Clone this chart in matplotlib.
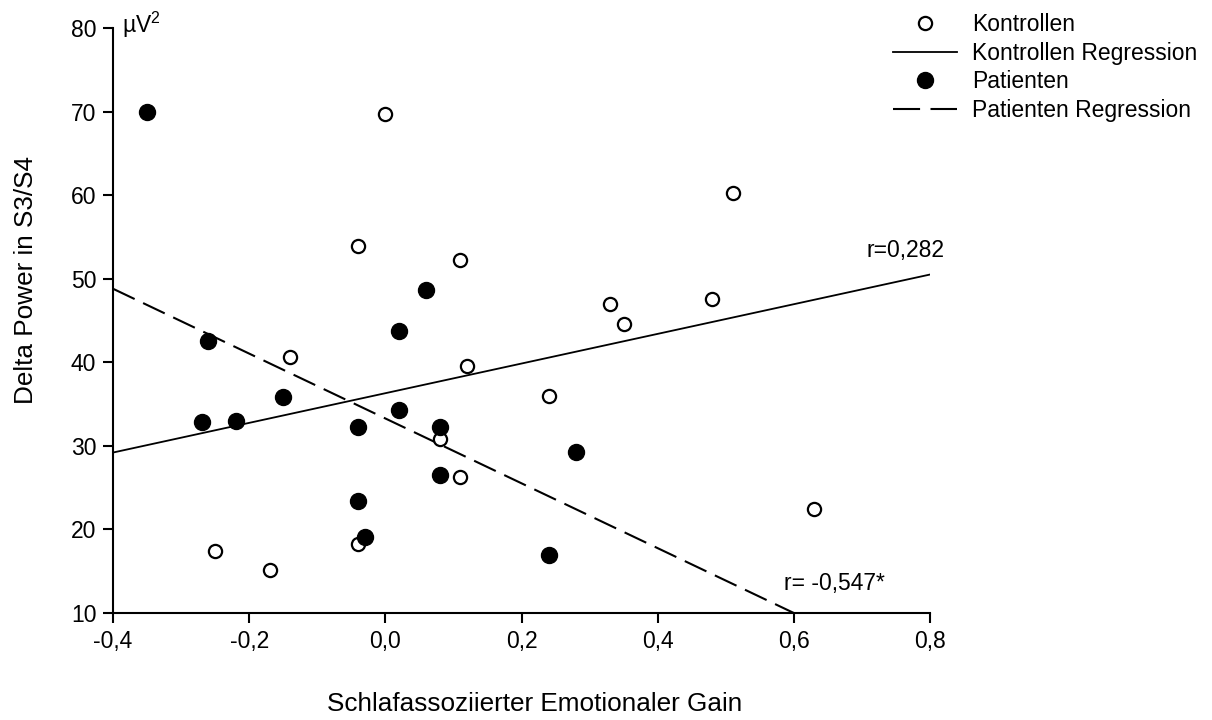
import matplotlib
matplotlib.use("Agg")
import matplotlib.pyplot as plt
from matplotlib.lines import Line2D
from matplotlib.ticker import FuncFormatter

plt.rcParams["font.family"] = ["Liberation Sans", "DejaVu Sans"]
plt.rcParams["mathtext.fontset"] = "custom"
plt.rcParams["mathtext.rm"] = "Liberation Sans"
plt.rcParams["mathtext.default"] = "regular"

# Kontrollen (offene Kreise)
ctrl_x = [0.00, 0.51, -0.04, 0.11, 0.33, 0.48, 0.35, -0.14, 0.12, 0.24, 0.08, 0.11, 0.63, -0.25, -0.17, -0.04]
ctrl_y = [69.7, 60.3, 53.9, 52.2, 47.0, 47.6, 44.6, 40.6, 39.5, 36.0, 30.8, 26.3, 22.5, 17.4, 15.2, 18.2]

# Patienten (gefuellte Kreise)
pat_x = [-0.35, 0.06, 0.02, -0.26, -0.15, 0.02, -0.27, -0.22, -0.04, 0.08, 0.28, 0.08, -0.04, -0.03, 0.24]
pat_y = [70.0, 48.7, 43.7, 42.5, 35.9, 34.3, 32.9, 33.0, 32.3, 32.3, 29.3, 26.5, 23.4, 19.1, 17.0]

# Regressionsgeraden (Endpunkte)
ctrl_reg_x = [-0.4, 0.8]
ctrl_reg_y = [29.2, 50.5]
pat_reg_x = [-0.4, 0.6]
pat_reg_y = [48.8, 10.0]

x_ticks = [-0.4, -0.2, 0.0, 0.2, 0.4, 0.6, 0.8]
y_ticks = [10, 20, 30, 40, 50, 60, 70, 80]

DASH = (11.5, 4.5)

fig = plt.figure(figsize=(12.12, 7.2), dpi=100)
ax = fig.add_axes([113 / 1212, 1 - 613 / 720, (930 - 113) / 1212, (613 - 28) / 720])

ax.plot(ctrl_reg_x, ctrl_reg_y, color="black", lw=1.3)
ax.plot(pat_reg_x, pat_reg_y, color="black", lw=1.5, dashes=DASH)
ax.plot(ctrl_x, ctrl_y, "o", ms=9.5, mfc="white", mec="black", mew=1.6, clip_on=False)
ax.plot(pat_x, pat_y, "o", ms=11.5, mfc="black", mec="black", clip_on=False)

ax.set_xlim(-0.4, 0.8)
ax.set_ylim(10, 80)
ax.set_xticks(x_ticks)
ax.set_yticks(y_ticks)
ax.xaxis.set_major_formatter(FuncFormatter(lambda v, p: f"{v:.1f}".replace(".", ",")))
for s in ["top", "right"]:
    ax.spines[s].set_visible(False)
for s in ["left", "bottom"]:
    ax.spines[s].set_linewidth(1.5)
ax.tick_params(direction="out", length=7, width=1.5, labelsize=16.5, pad=5)

ax.set_xlabel("Schlafassoziierter Emotionaler Gain", fontsize=18.8)
ax.set_ylabel("Delta Power in S3/S4", fontsize=18.8)
ax.xaxis.set_label_coords(0.516, -0.135)
ax.yaxis.set_label_coords(-0.092, 0.569)

ax.text(-0.387, 79.4, "\u00b5V$^2$", fontsize=16.5, ha="left", va="baseline")
ax.text(0.706, 52.6, "r=0,282", fontsize=16.5, ha="left", va="baseline")
ax.text(0.585, 12.75, "r= -0,547*", fontsize=16.5, ha="left", va="baseline")

handles = [
    Line2D([], [], ls="none", marker="o", ms=9.5, mfc="white", mec="black", mew=1.6),
    Line2D([], [], color="black", lw=1.3),
    Line2D([], [], ls="none", marker="o", ms=11.5, mfc="black", mec="black"),
    Line2D([], [], color="black", lw=1.5, dashes=(13, 5)),
]
labels = ["Kontrollen", "Kontrollen Regression", "Patienten", "Patienten Regression"]
fig.legend(handles, labels, loc="upper left", bbox_to_anchor=(884 / 1212, 1 - 4 / 720),
           frameon=False, fontsize=16.5, handlelength=2.8, handletextpad=0.65,
           labelspacing=0.24, borderaxespad=0)

fig.savefig("out.png", dpi=100)
